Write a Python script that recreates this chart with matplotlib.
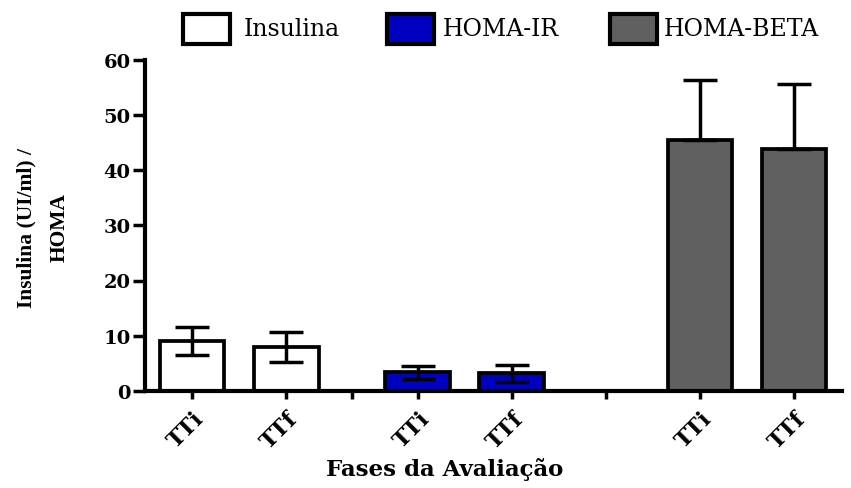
import matplotlib
matplotlib.use("Agg")
import matplotlib.pyplot as plt
from matplotlib.patches import Rectangle
from matplotlib.transforms import ScaledTranslation

# ---- data ----
series = ["Insulina", "HOMA-IR", "HOMA-BETA"]
phases = ["TTi", "TTf"]
means = {
    "Insulina": [9.0, 8.0],
    "HOMA-IR": [3.4, 3.2],
    "HOMA-BETA": [45.5, 43.8],
}
errors = {
    "Insulina": [2.5, 2.7],
    "HOMA-IR": [1.15, 1.5],
    "HOMA-BETA": [10.7, 11.8],
}
colors = ["#FFFFFF", "#0000C0", "#606060"]
y_ticks = [0, 10, 20, 30, 40, 50, 60]

# ---- layout ----
W, H = 851, 489
fig = plt.figure(figsize=(W / 100, H / 100), dpi=100)
ax = fig.add_axes([145 / W, 1 - 392 / H, (842 - 145) / W, (392 - 60.5) / H])

group_start = [0.0, 2.4, 5.4]
bar_w = 0.69
lw = 2.7

tick_pos, tick_lab = [], []
for gi, s in enumerate(series):
    xs = [group_start[gi] + k for k in range(len(phases))]
    ax.bar(xs, means[s], width=bar_w, color=colors[gi], edgecolor="black",
           linewidth=lw, zorder=2)
    if gi == 2:
        yerr = [[0] * len(xs), errors[s]]
    else:
        yerr = [errors[s], errors[s]]
    ax.errorbar(xs, means[s], yerr=yerr, fmt="none", ecolor="black",
                elinewidth=2.5, capsize=12, capthick=2.5, zorder=3)
    tick_pos += xs
    tick_lab += phases

sep = [(group_start[0] + 1 + group_start[1]) / 2, (group_start[1] + 1 + group_start[2]) / 2]

ax.set_xlim(-0.5, 6.91)
ax.set_ylim(0, 60)
for sp in ["top", "right"]:
    ax.spines[sp].set_visible(False)
for sp in ["left", "bottom"]:
    ax.spines[sp].set_linewidth(3)

ax.set_yticks(y_ticks)
ax.set_yticklabels([str(v) for v in y_ticks], fontfamily="DejaVu Serif",
                   fontweight="bold", fontsize=14)
ax.tick_params(axis="y", length=8.5, width=2.5, pad=2)

ax.set_xticks(tick_pos + sep)
ax.set_xticklabels(tick_lab + [""] * len(sep), rotation=45, ha="right",
                   va="center", rotation_mode="anchor",
                   fontfamily="DejaVu Serif", fontweight="bold", fontsize=16)
ax.tick_params(axis="x", length=6, width=2.5, pad=11)
off = ScaledTranslation(6 / 72, 0, fig.dpi_scale_trans)
for lab in ax.get_xticklabels():
    lab.set_transform(lab.get_transform() + off)

fig.text(445 / W, 1 - 470 / H, "Fases da Avaliação", ha="center", va="center",
         fontfamily="DejaVu Serif", fontweight="bold", fontsize=16.5)

fig.text(43 / W, 1 - 228 / H, "Insulina (UI/ml) /\nHOMA", rotation=90,
         ha="center", va="center", multialignment="center",
         fontfamily="Liberation Serif", fontweight="bold", fontsize=15.5,
         linespacing=1.85)

# ---- legend (manual, figure pixels) ----
box_left = [183, 387, 610]
text_left = [244, 443, 664]
for i, s in enumerate(series):
    r = Rectangle((box_left[i] / W, 1 - 45 / H), 47 / W, 30 / H,
                  transform=fig.transFigure, facecolor=colors[i],
                  edgecolor="black", linewidth=3)
    fig.add_artist(r)
    fig.text(text_left[i] / W, 1 - 30 / H, s, ha="left", va="center",
             fontfamily="DejaVu Serif", fontsize=17)

fig.savefig("out.png", dpi=100)
